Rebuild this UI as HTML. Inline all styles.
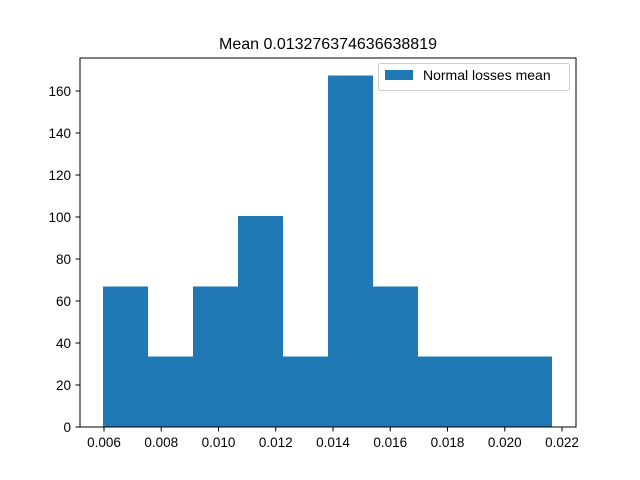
<!DOCTYPE html>
<html><head><meta charset="utf-8"><style>body{margin:0;background:#fff}svg{display:block;font-family:"Liberation Sans","DejaVu Sans",sans-serif}</style></head>
<body>
<svg id="chart" width="640" height="480">
<rect width="640" height="480" fill="#fff"/>
<text x="328" y="49" text-anchor="middle" font-size="16">Mean 0.013276374636638819</text>
<g id="bars" shape-rendering="crispEdges"></g>
<g id="axes"></g>
<rect x="80" y="58" width="496" height="369" fill="none" stroke="#000" stroke-width="1"/>
<g>
<rect x="378.5" y="63.5" width="191" height="27" rx="2" fill="#fff" fill-opacity="0.8" stroke="#ccc"/>
<rect x="385" y="70" width="28" height="10" fill="#1f77b4"/>
<text x="423" y="80" font-size="14">Normal losses mean</text>
</g>
</svg>
<script>
const binStart = 0.00597;
const binEnd = 0.02166;
const counts = [67, 33.5, 67, 100.5, 33.5, 167.5, 67, 33.5, 33.5, 33.5];
const xTicks = [0.006, 0.008, 0.010, 0.012, 0.014, 0.016, 0.018, 0.020, 0.022];
const xTickLabels = ["0.006","0.008","0.010","0.012","0.014","0.016","0.018","0.020","0.022"];
const yTicks = [0, 20, 40, 60, 80, 100, 120, 140, 160];

const X = v => 104 + (v - 0.006) / 0.002 * 57.25;
const Y = v => 427 - v * 2.1;
const ns = "http://www.w3.org/2000/svg";
const bars = document.getElementById('bars'), axes = document.getElementById('axes');
const w = (binEnd - binStart) / counts.length;
counts.forEach((c, i) => {
  const r = document.createElementNS(ns, 'rect');
  const x0 = Math.round(X(binStart + i * w)), x1 = Math.round(X(binStart + (i + 1) * w));
  r.setAttribute('x', x0); r.setAttribute('width', x1 - x0);
  r.setAttribute('y', Y(c)); r.setAttribute('height', Y(0) - Y(c));
  r.setAttribute('fill', '#1f77b4');
  
  
  bars.appendChild(r);
});
xTicks.forEach((t, i) => {
  const l = document.createElementNS(ns, 'line');
  l.setAttribute('x1', X(t)); l.setAttribute('x2', X(t)); l.setAttribute('y1', 427); l.setAttribute('y2', 431.5); l.setAttribute('stroke', '#000');
  
  
  axes.appendChild(l);
  const tx = document.createElementNS(ns, 'text');
  tx.setAttribute('x', X(t)); tx.setAttribute('y', 447); tx.setAttribute('text-anchor', 'middle'); tx.setAttribute('font-size', '13.5');
  tx.textContent = xTickLabels[i];
  
  
  axes.appendChild(tx);
});
yTicks.forEach(t => {
  const l = document.createElementNS(ns, 'line');
  l.setAttribute('x1', 75.5); l.setAttribute('x2', 80); l.setAttribute('y1', Y(t)); l.setAttribute('y2', Y(t)); l.setAttribute('stroke', '#000');
  
  
  axes.appendChild(l);
  const tx = document.createElementNS(ns, 'text');
  tx.setAttribute('x', 71); tx.setAttribute('y', Y(t) + 5); tx.setAttribute('text-anchor', 'end'); tx.setAttribute('font-size', '13.5');
  tx.textContent = t;
  
  
  axes.appendChild(tx);
});
</script>
</body></html>
